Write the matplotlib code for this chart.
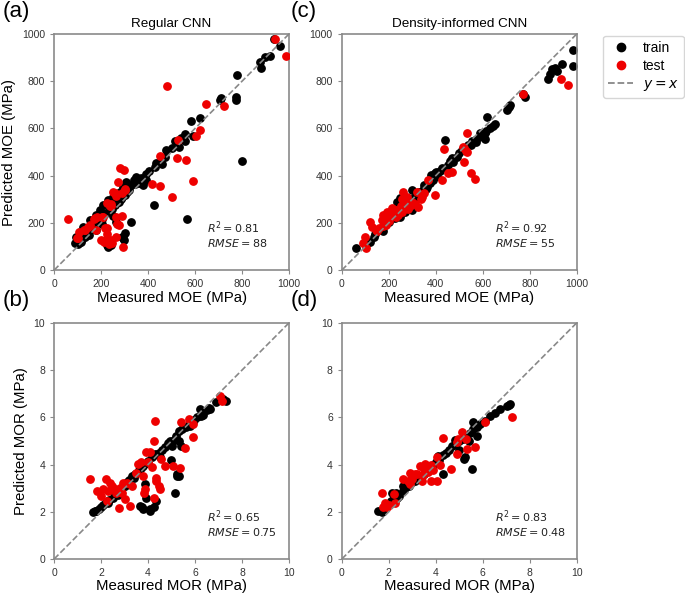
import matplotlib
matplotlib.use("Agg")
import matplotlib.pyplot as plt
from matplotlib.lines import Line2D

plt.rcParams['font.family'] = ['Liberation Sans', 'DejaVu Sans']
plt.rcParams['mathtext.fontset'] = 'dejavusans'

# (a) regular CNN, MOE  -- (measured, predicted) pairs
a_train = [(935, 980), (960, 948), (896, 902), (918, 905), (875, 880), (880, 856), (778, 827),
           (705, 721), (712, 728), (772, 733), (772, 721), (584, 632), (623, 644), (589, 566),
           (556, 577), (514, 545), (556, 545), (478, 509), (471, 481), (435, 453), (428, 438),
           (801, 460), (424, 276), (566, 218), (393, 407), (350, 396), (308, 375), (329, 361),
           (294, 354), (279, 332), (251, 311), (230, 297), (209, 276), (194, 255), (180, 233),
           (152, 212), (123, 184), (109, 163), (95, 141), (88, 113), (109, 120), (326, 205),
           (301, 156), (294, 134), (223, 127), (230, 99), (298, 127), (291, 141), (227, 106),
           (241, 106), (340, 381), (369, 388), (390, 381), (360, 370), (320, 340), (310, 330),
           (300, 320), (285, 300), (270, 290), (260, 275), (245, 260), (235, 250), (220, 240),
           (205, 215), (195, 205), (185, 200), (170, 190), (160, 175), (145, 165), (135, 150),
           (120, 130), (115, 140), (100, 110), (455, 470), (500, 515), (530, 520), (540, 560),
           (460, 450), (405, 420), (380, 360), (250, 230), (265, 205), (275, 290), (290, 310),
           (315, 355), (345, 365), (205, 195), (180, 170), (150, 150), (130, 140), (115, 118)]
a_test = [(939, 979), (986, 908), (482, 781), (645, 704), (722, 693), (620, 594), (606, 566),
          (528, 552), (521, 474), (450, 484), (563, 467), (592, 378), (418, 365), (452, 356),
          (502, 308), (282, 434), (296, 424), (273, 375), (260, 325), (301, 339), (61, 215),
          (223, 283), (237, 273), (203, 226), (173, 219), (152, 191), (130, 170), (102, 134),
          (180, 170), (223, 177), (268, 195), (289, 229), (265, 139), (231, 127), (232, 109),
          (294, 99), (201, 127), (291, 325), (262, 315), (184, 226), (145, 184), (128, 169),
          (106, 162), (99, 134), (216, 177), (227, 155), (262, 223), (277, 191), (244, 127),
          (213, 120), (248, 113), (241, 282), (206, 226), (170, 215), (302, 342), (250, 330),
          (240, 270)]

# (c) density-informed CNN, MOE
c_train = [(984, 932), (982, 866), (939, 872), (906, 856), (916, 841), (885, 830), (878, 809),
           (895, 850), (779, 732), (772, 746), (715, 697), (703, 679), (710, 690), (619, 648),
           (644, 612), (615, 591), (601, 577), (608, 556), (573, 542), (582, 565), (610, 579),
           (567, 551), (539, 530), (511, 508), (475, 459), (440, 551), (426, 431), (397, 410),
           (380, 403), (390, 381), (376, 367), (362, 353), (348, 346), (330, 330), (315, 320),
           (298, 254), (284, 275), (270, 247), (248, 226), (227, 219), (248, 304), (234, 290),
           (156, 169), (142, 155), (135, 141), (121, 120), (60, 92), (110, 118), (170, 180),
           (185, 190), (200, 205), (215, 220), (230, 235), (240, 250), (255, 260), (265, 272),
           (280, 285), (295, 300), (310, 305), (320, 315), (345, 335), (360, 345), (405, 400),
           (420, 420), (450, 445), (460, 460), (490, 480), (500, 495), (520, 510), (550, 530),
           (555, 545), (590, 580), (630, 600), (650, 620), (400, 415), (470, 475), (300, 340),
           (350, 360), (245, 240), (190, 200), (175, 165)]
c_test = [(931, 809), (963, 785), (772, 746), (533, 582), (516, 521), (530, 505), (433, 513),
          (522, 516), (532, 501), (550, 410), (565, 384), (518, 459), (468, 417), (451, 410),
          (426, 381), (397, 318), (348, 325), (262, 332), (277, 311), (312, 282), (326, 268),
          (213, 261), (191, 247), (177, 233), (199, 219), (170, 212), (121, 205), (128, 184),
          (99, 141), (92, 113), (102, 92), (365, 380), (340, 310), (300, 290), (290, 270),
          (280, 260), (255, 245), (240, 235), (230, 225), (220, 240), (210, 230), (200, 210),
          (185, 200), (190, 190), (175, 185), (160, 180), (150, 165), (145, 170), (230, 255),
          (250, 270), (270, 290), (335, 300), (320, 330), (255, 300), (215, 255), (200, 235)]

# (b) regular CNN, MOR
b_train = [(1.73, 2.03), (1.8, 2.05), (1.9, 2.1), (2.0, 2.2), (2.1, 2.3), (2.2, 2.4), (2.35, 2.5),
           (2.5, 2.6), (2.6, 2.75), (2.75, 2.85), (2.9, 3.0), (3.0, 3.1), (3.1, 3.25), (3.2, 3.35),
           (3.3, 3.5), (3.45, 3.6), (3.6, 3.75), (3.7, 3.85), (3.8, 3.95), (3.9, 4.05), (4.0, 4.15),
           (4.15, 4.3), (4.3, 4.45), (4.45, 4.5), (4.6, 4.6), (4.7, 4.75), (4.85, 4.9), (4.95, 5.0),
           (5.1, 5.05), (5.2, 5.2), (5.3, 5.4), (5.45, 5.5), (5.6, 5.6), (5.8, 5.75), (5.95, 5.9),
           (6.1, 6.0), (6.25, 6.05), (6.35, 6.1), (6.5, 6.3), (6.6, 6.4), (6.9, 6.65), (7.1, 6.8),
           (7.2, 6.75), (7.33, 6.71), (3.86, 3.16), (3.65, 2.24), (3.79, 2.10), (4.07, 2.10),
           (4.24, 2.21), (4.35, 2.45), (3.89, 2.60), (4.99, 4.20), (5.13, 2.81), (5.21, 3.52),
           (5.30, 3.52), (5.42, 4.79), (5.80, 5.65), (6.20, 6.35), (6.62, 6.35), (7.19, 6.78),
           (1.65, 2.0), (2.3, 2.35), (2.7, 2.7), (3.4, 3.45), (4.5, 4.3), (5.0, 4.8), (5.3, 5.0),
           (3.75, 2.2), (4.1, 2.05), (5.25, 3.6)]
b_test = [(1.52, 3.40), (1.83, 2.88), (2.01, 2.67), (2.20, 3.38), (2.37, 3.23), (2.51, 2.95),
          (2.30, 2.88), (2.65, 2.81), (2.79, 3.02), (2.94, 3.23), (2.23, 2.45), (2.77, 2.17),
          (3.22, 2.24), (3.01, 2.52), (3.50, 3.66), (3.57, 4.01), (3.79, 3.52), (3.86, 2.95),
          (3.83, 2.81), (3.93, 4.51), (4.00, 4.09), (4.24, 2.60), (4.28, 5.86), (4.24, 5.01),
          (4.35, 3.45), (4.35, 3.30), (4.50, 2.95), (4.47, 3.09), (4.57, 4.23), (4.71, 3.94),
          (5.06, 3.94), (5.35, 3.87), (5.42, 5.82), (5.74, 5.93), (5.56, 4.68), (5.91, 5.15),
          (5.91, 5.72), (7.05, 6.89), (7.16, 6.71), (2.45, 3.1), (2.6, 2.95), (3.3, 3.1),
          (3.1, 3.2), (3.7, 4.1), (4.1, 4.55), (4.15, 3.9), (2.1, 2.95), (2.9, 2.8)]

# (d) density-informed CNN, MOR
d_train = [(1.52, 2.03), (1.70, 1.99), (1.8, 2.1), (1.95, 2.3), (2.1, 2.45), (2.2, 2.6), (2.3, 2.8),
           (2.45, 2.65), (2.6, 2.9), (2.7, 3.0), (2.85, 3.1), (2.95, 3.2), (3.1, 3.3), (3.2, 3.45),
           (3.35, 3.5), (3.5, 3.6), (3.65, 3.75), (3.8, 3.85), (3.9, 4.0), (4.0, 4.1), (4.15, 4.2),
           (4.3, 4.4), (4.45, 4.5), (4.55, 4.6), (4.7, 4.8), (4.85, 4.9), (5.0, 5.0), (5.15, 5.1),
           (5.3, 5.2), (5.45, 5.35), (5.6, 5.5), (5.75, 5.6), (5.9, 5.7), (6.1, 5.85), (6.3, 6.05),
           (6.5, 6.2), (6.74, 6.35), (7.02, 6.47), (7.16, 6.57), (7.1, 6.5), (5.53, 3.83),
           (5.18, 4.23), (5.25, 4.3), (5.60, 5.79), (5.74, 5.22), (4.3, 3.6), (4.8, 5.05),
           (4.1, 4.35), (3.6, 3.9), (2.6, 3.1), (5.0, 4.6), (5.4, 5.0), (2.35, 2.6), (2.15, 2.8)]
d_test = [(1.70, 2.78), (1.84, 2.38), (1.94, 2.21), (2.20, 2.74), (2.27, 2.38), (2.62, 3.40),
          (2.91, 3.66), (2.91, 3.16), (3.12, 3.59), (3.33, 3.94), (3.55, 4.01), (3.76, 3.94),
          (3.40, 3.30), (3.79, 3.30), (4.07, 3.30), (4.04, 4.30), (4.30, 5.12), (4.64, 3.80),
          (4.89, 4.96), (4.92, 4.44), (5.11, 5.36), (5.28, 5.08), (5.32, 4.65), (5.67, 4.75),
          (6.10, 5.79), (7.26, 6.00), (2.0, 2.3), (1.75, 2.2), (3.0, 3.5), (3.2, 3.6), (3.5, 3.8),
          (3.65, 3.7), (3.9, 3.75), (3.8, 4.0), (4.2, 4.0), (3.45, 3.55), (2.8, 3.3), (3.0, 3.4),
          (4.95, 5.1)]

stats = {"a": ("0.81", "88"), "b": ("0.65", "0.75"), "c": ("0.92", "55"), "d": ("0.83", "0.48")}

fig = plt.figure(figsize=(6.85, 5.95), dpi=100)
w, h = 0.343, 0.397
rects = {"a": (0.079, 0.546), "c": (0.499, 0.546), "b": (0.079, 0.0605), "d": (0.499, 0.0605)}
data = {"a": (a_train, a_test), "b": (b_train, b_test), "c": (c_train, c_test), "d": (d_train, d_test)}
spine_c = "#8a8a8a"

for key in "abcd":
    ax = fig.add_axes([rects[key][0], rects[key][1], w, h])
    train, test = data[key]
    top = 1000 if key in "ac" else 10
    ax.scatter([p[0] for p in train], [p[1] for p in train], s=28, color="black", zorder=2)
    ax.scatter([p[0] for p in test], [p[1] for p in test], s=28, color="#ee0000", zorder=3)
    ax.plot([0, top], [0, top], ls="--", color="#888888", lw=1.2, zorder=4)
    ax.set_xlim(0, top)
    ax.set_ylim(0, top)
    if top == 1000:
        ax.set_xticks(range(0, 1001, 200))
        ax.set_yticks(range(0, 1001, 200))
    else:
        ax.set_xticks(range(0, 11, 2))
        ax.set_yticks(range(0, 11, 2))
    for s in ax.spines.values():
        s.set_color(spine_c)
        s.set_linewidth(1.2)
    ax.tick_params(colors=spine_c, labelcolor="#333333", labelsize=7.5, length=3)
    ax.set_xlabel("Measured MOE (MPa)" if top == 1000 else "Measured MOR (MPa)", fontsize=10.8, labelpad=1)
    if key == "a":
        ax.set_ylabel("Predicted MOE (MPa)", fontsize=10.8)
        ax.set_title("Regular CNN", fontsize=9.7, pad=5)
    if key == "b":
        ax.set_ylabel("Predicted MOR (MPa)", fontsize=10.8)
    if key == "c":
        ax.set_title("Density-informed CNN", fontsize=9.7, pad=5)
    r2, rmse = stats[key]
    ax.text(0.65, 0.09, "$R^2 = %s$\n$RMSE = %s$" % (r2, rmse), transform=ax.transAxes,
            fontsize=8, color="#222222", va="bottom", ha="left", linespacing=1.1)

fig.text(0.004, 0.998, "(a)", fontsize=16, va="top")
fig.text(0.424, 0.998, "(c)", fontsize=16, va="top")
fig.text(0.004, 0.512, "(b)", fontsize=16, va="top")
fig.text(0.424, 0.512, "(d)", fontsize=16, va="top")

handles = [Line2D([], [], marker="o", ls="", color="black", markersize=6),
           Line2D([], [], marker="o", ls="", color="#ee0000", markersize=6),
           Line2D([], [], ls="--", color="#888888", lw=1.3)]
fig.legend(handles, ["train", "test", "$y = x$"], loc="upper right", bbox_to_anchor=(0.998, 0.94),
           borderaxespad=0, fontsize=10, handlelength=1.8, borderpad=0.35, labelspacing=0.3,
           handletextpad=0.7)

fig.savefig("out.png", dpi=100)
